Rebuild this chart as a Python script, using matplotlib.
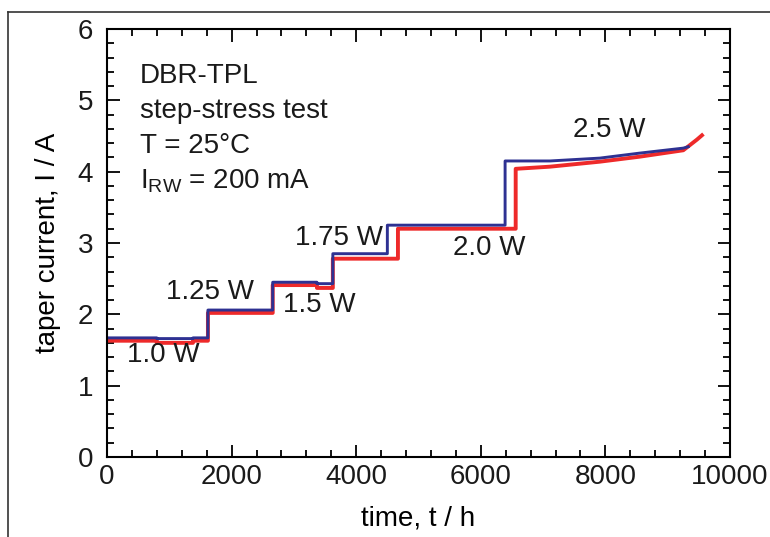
import matplotlib
matplotlib.use("Agg")
import matplotlib.pyplot as plt
from matplotlib.lines import Line2D
from matplotlib.ticker import MultipleLocator
import numpy as np

# step edges (t / h) and taper current levels (A)
blue_t = [0, 800, 1380, 1620, 2660, 3370, 3625, 4500, 6390]
blue_i = [1.67, 1.66, 1.67, 2.06, 2.45, 2.43, 2.85, 3.25, 4.15]
blue_tail_t = [7110, 7910, 8550, 9250, 9330]
blue_tail_i = [4.15, 4.19, 4.26, 4.33, 4.35]

red_t = [0, 800, 1380, 1620, 2660, 3370, 3625, 4670, 6560]
red_i = [1.63, 1.60, 1.63, 2.02, 2.41, 2.37, 2.78, 3.20, 4.04]
red_tail_t = [7110, 7910, 8550, 9250, 9470, 9550]
red_tail_i = [4.07, 4.14, 4.21, 4.30, 4.45, 4.51]

step_labels = ['1.0 W', '1.25 W', '1.5 W', '1.75 W', '2.0 W', '2.5 W']
label_t = [900, 1650, 3400, 3720, 6130, 8060]
label_i = [1.43, 2.32, 2.13, 3.07, 2.93, 4.58]

plt.rcParams['font.family'] = ['Liberation Sans', 'DejaVu Sans']
plt.rcParams['mathtext.fontset'] = 'custom'
plt.rcParams['mathtext.rm'] = 'Liberation Sans'
plt.rcParams['font.size'] = 20
plt.rcParams['text.color'] = '#1a1a1a'


def steps(t, i, tail_t, tail_i):
    xs, ys = [], []
    for k in range(len(t)):
        if k > 0:
            xs.append(t[k])
            ys.append(i[k - 1])
        xs.append(t[k])
        ys.append(i[k])
    return np.array(xs + tail_t), np.array(ys + tail_i)


fig = plt.figure(figsize=(7.7, 5.37), dpi=100)
ax = fig.add_axes([107 / 770, 80 / 537, 623 / 770, 428 / 537])

rx, ry = steps(red_t, red_i, red_tail_t, red_tail_i)
bx, by = steps(blue_t, blue_i, blue_tail_t, blue_tail_i)
ax.plot(rx, ry, color='#ee2a2a', linewidth=2.8)
ax.plot(bx, by, color='#2e3192', linewidth=2.1)

for lab, x, y in zip(step_labels, label_t, label_i):
    ax.text(x, y, lab, ha='center', va='center', fontsize=20)

info = ['DBR-TPL', 'step-stress test', 'T = 25°C', r'I$_{\mathrm{RW}}$ = 200 mA']
for k, line in enumerate(info):
    ax.text(530, 5.24 - k * 0.49, line, ha='left', va='baseline', fontsize=20)

ax.set_xlim(0, 10000)
ax.set_ylim(0, 6)
ax.xaxis.set_major_locator(MultipleLocator(2000))
ax.xaxis.set_minor_locator(MultipleLocator(400))
ax.yaxis.set_major_locator(MultipleLocator(1))
ax.yaxis.set_minor_locator(MultipleLocator(0.2))
ax.tick_params(which='both', direction='in', top=True, right=True, width=1.3,
               labelcolor='#1a1a1a')
ax.tick_params(which='major', length=9)
ax.tick_params(which='minor', length=5)
ax.tick_params(axis='y', pad=10, labelsize=20)
ax.tick_params(axis='x', pad=5, labelsize=20)
for s in ax.spines.values():
    s.set_linewidth(1.5)

ax.set_xlabel('time, t / h', fontsize=20, labelpad=11)
ax.set_ylabel('taper current, I / A', fontsize=20, labelpad=12)

# partial frame round the figure
fig.add_artist(Line2D([8 / 770, 8 / 770], [0, 1 - 12 / 537], color='#333333', linewidth=1.2))
fig.add_artist(Line2D([8 / 770, 1], [1 - 12 / 537, 1 - 12 / 537], color='#333333', linewidth=1.2))

fig.savefig('out.png', dpi=100)
